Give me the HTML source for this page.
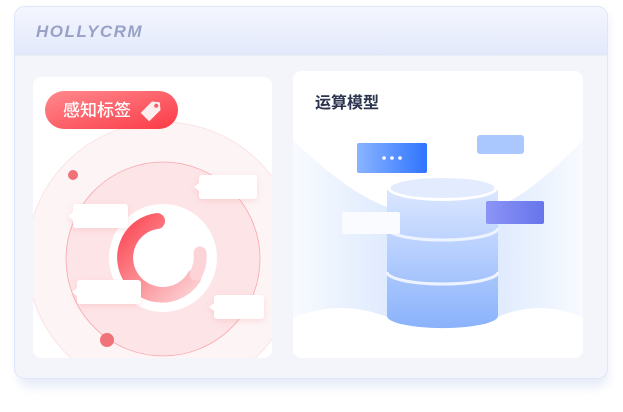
<!DOCTYPE html><html><head><meta charset="utf-8"><style>
body{margin:0;width:623px;height:407px;background:#fff;overflow:hidden;font-family:"Liberation Sans","Noto Sans CJK SC",sans-serif}
</style></head><body>
<svg width="623" height="407" viewBox="0 0 623 407" xmlns="http://www.w3.org/2000/svg">
<defs>
<linearGradient id="hd" x1="0" y1="0" x2="0" y2="1"><stop offset="0" stop-color="#f4f6fe"/><stop offset="1" stop-color="#e3e9fb"/></linearGradient>
<linearGradient id="tag" x1="0" y1="0" x2="1" y2="1"><stop offset="0" stop-color="#ff8a8e"/><stop offset="1" stop-color="#fb3a47"/></linearGradient>
<linearGradient id="arc" x1="0" y1="0" x2="1" y2="1"><stop offset="0" stop-color="#fb4a55"/><stop offset="1" stop-color="#fcd0d3"/></linearGradient>
<linearGradient id="bl" x1="0" y1="0" x2="1" y2="0"><stop offset="0" stop-color="#8ab4ff"/><stop offset="1" stop-color="#2f74ff"/></linearGradient>
<linearGradient id="pu" x1="0" y1="0" x2="1" y2="0"><stop offset="0" stop-color="#8c94f6"/><stop offset="1" stop-color="#6675ea"/></linearGradient>
<linearGradient id="cy" x1="0" y1="0" x2="0" y2="1"><stop offset="0" stop-color="#dbe7ff"/><stop offset="1" stop-color="#8ab2fb"/></linearGradient>
<linearGradient id="side" x1="0" y1="0" x2="1" y2="0"><stop offset="0" stop-color="#f6f9ff"/><stop offset="1" stop-color="#d6e5fd"/></linearGradient>
<linearGradient id="side2" x1="1" y1="0" x2="0" y2="0"><stop offset="0" stop-color="#f6f9ff"/><stop offset="1" stop-color="#d6e5fd"/></linearGradient>
<clipPath id="lc"><rect x="33" y="77" width="239" height="281" rx="8"/></clipPath>
<clipPath id="rc"><rect x="293" y="71" width="290" height="287" rx="8"/></clipPath>
<filter id="sh" x="-20%" y="-20%" width="140%" height="140%"><feGaussianBlur stdDeviation="5"/></filter>
<filter id="bs" x="-30%" y="-50%" width="160%" height="200%"><feDropShadow dx="0" dy="2" stdDeviation="3" flood-color="#f08a90" flood-opacity="0.25"/></filter>
</defs>
<rect x="18" y="12" width="590" height="375" rx="12" fill="#e6ebf7" filter="url(#sh)"/>
<rect x="14.5" y="6.5" width="593" height="372" rx="10" fill="#f3f5fa" stroke="#dfe6fb"/>
<path d="M15 55V17a10 10 0 0 1 10-10h572a10 10 0 0 1 10 10v38z" fill="url(#hd)"/>
<line x1="15" y1="55" x2="607" y2="55" fill="none" stroke="#e0e6f6"/>
<text x="36" y="37" font-size="17" font-weight="bold" font-style="italic" fill="#98a2c6" letter-spacing="1.5">HOLLYCRM</text>

<rect x="33" y="77" width="239" height="281" rx="8" fill="#fff"/>
<g clip-path="url(#lc)">
<circle cx="163" cy="258" r="136" fill="#fdf4f5" stroke="#fbe3e5"/>
<circle cx="163" cy="259" r="97" fill="#fde4e6" stroke="#f8a8ae" stroke-width="0.8"/>
<circle cx="163" cy="258" r="54" fill="#fff"/>
<path d="M157 221 A37 37 0 1 0 193 278" fill="none" stroke="url(#arc)" stroke-width="16" stroke-linecap="round"/>
<path d="M200 253 A37 37 0 0 1 196 274" fill="none" stroke="#fcd3d6" stroke-width="13" stroke-linecap="round"/>
<circle cx="163" cy="258" r="29" fill="#fff"/>
<circle cx="73" cy="175" r="5" fill="#f27179"/>
<circle cx="107" cy="340" r="7" fill="#f1737a"/>
<g fill="#fff" filter="url(#bs)">
<rect x="199" y="175" width="58" height="24" rx="3"/><path d="M199 183l-5 4 5 4z"/>
<rect x="73" y="204" width="55" height="24" rx="3"/><path d="M73 212l-5 4 5 4z"/>
<rect x="77" y="280" width="64" height="24" rx="3"/><path d="M77 288l-5 4 5 4z"/>
<rect x="214" y="295" width="50" height="24" rx="3"/><path d="M214 303l-5 4 5 4z"/>
</g>
</g>
<rect x="45" y="91" width="133" height="38" rx="19" fill="url(#tag)"/>
<text x="63" y="116" font-size="17" font-weight="500" fill="#fff">感知标签</text>
<g transform="rotate(45 152 110)"><path d="M146 100h12v16l-6 5-6-5z" fill="#fff" opacity="0.9" transform="rotate(180 152 110)"/><circle cx="152" cy="104" r="2" fill="#fb5a63"/></g>

<rect x="293" y="71" width="290" height="287" rx="8" fill="#fff"/>
<g clip-path="url(#rc)">
<path d="M293 140 Q350 195 390 208 L390 318 Q340 298 293 318z" fill="url(#side)" opacity="0.8"/>
<path d="M583 140 Q530 195 495 208 L495 318 Q540 298 583 318z" fill="url(#side2)" opacity="0.8"/>
</g>
<text x="315" y="108" font-size="16" font-weight="bold" fill="#2d3450">运算模型</text>
<rect x="357" y="143" width="70" height="30" rx="2" fill="url(#bl)"/>
<g fill="#fff"><circle cx="384" cy="158" r="1.8"/><circle cx="392" cy="158" r="1.8"/><circle cx="400" cy="158" r="1.8"/></g>
<rect x="477" y="135" width="47" height="19" rx="3" fill="#aac8fd"/>
<path d="M387 188 V316 A55 12 0 0 0 498 316 V188z" fill="url(#cy)"/>
<ellipse cx="442.5" cy="188" rx="55.5" ry="13" fill="#fff"/>
<ellipse cx="442.5" cy="188" rx="52" ry="10" fill="#e3ecff"/>
<path d="M387 228 A55.5 12 0 0 0 498 228" fill="none" stroke="#eef4ff" stroke-width="3"/>
<path d="M387 272 A55.5 12 0 0 0 498 272" fill="none" stroke="#eef4ff" stroke-width="3"/>
<rect x="486" y="201" width="58" height="23" rx="2" fill="url(#pu)"/>
<rect x="342" y="212" width="58" height="22" rx="2" fill="#f9fbff"/>
</svg>
</body></html>
